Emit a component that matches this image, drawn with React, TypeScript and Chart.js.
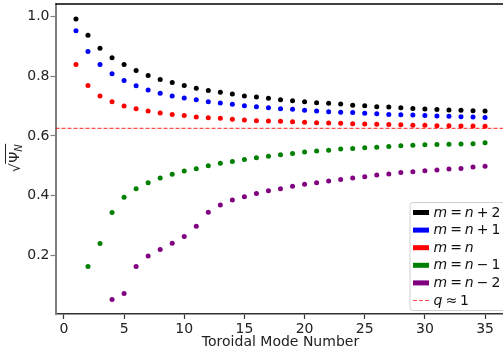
import React, { useEffect, useRef } from "react";
import { Chart, registerables } from "chart.js";

Chart.register(...registerables);

const modes = [1, 2, 3, 4, 5, 6, 7, 8, 9, 10, 11, 12, 13, 14, 15, 16, 17, 18, 19, 20, 21, 22, 23, 24, 25, 26, 27, 28, 29, 30, 31, 32, 33, 34, 35];

const mPlus2 = [0.992, 0.937, 0.894, 0.862, 0.839, 0.819, 0.802, 0.789, 0.779, 0.769, 0.760, 0.752, 0.746, 0.740, 0.734, 0.730, 0.726, 0.721, 0.718, 0.714, 0.711, 0.709, 0.707, 0.703, 0.701, 0.698, 0.697, 0.694, 0.692, 0.690, 0.688, 0.687, 0.686, 0.684, 0.683];
const mPlus1 = [0.952, 0.883, 0.839, 0.808, 0.786, 0.768, 0.754, 0.743, 0.734, 0.727, 0.721, 0.714, 0.710, 0.706, 0.701, 0.698, 0.694, 0.691, 0.689, 0.686, 0.683, 0.681, 0.679, 0.678, 0.676, 0.674, 0.672, 0.671, 0.670, 0.668, 0.667, 0.666, 0.664, 0.663, 0.662];
const mEq = [0.839, 0.769, 0.734, 0.714, 0.700, 0.691, 0.683, 0.677, 0.672, 0.668, 0.663, 0.661, 0.659, 0.656, 0.653, 0.651, 0.650, 0.649, 0.647, 0.646, 0.644, 0.643, 0.642, 0.641, 0.640, 0.639, 0.638, 0.637, 0.636, 0.636, 0.634, 0.634, 0.633, 0.633, 0.632];
// starts at mode 2
const mMinus1 = [0.162, 0.239, 0.343, 0.394, 0.423, 0.443, 0.459, 0.471, 0.482, 0.490, 0.500, 0.508, 0.514, 0.521, 0.527, 0.532, 0.537, 0.541, 0.546, 0.549, 0.552, 0.556, 0.558, 0.560, 0.562, 0.564, 0.567, 0.569, 0.570, 0.571, 0.572, 0.573, 0.574, 0.577];
// starts at mode 4
const mMinus2 = [0.052, 0.072, 0.162, 0.197, 0.219, 0.240, 0.263, 0.297, 0.344, 0.368, 0.385, 0.396, 0.407, 0.416, 0.423, 0.431, 0.438, 0.443, 0.449, 0.454, 0.459, 0.463, 0.469, 0.472, 0.477, 0.480, 0.483, 0.486, 0.489, 0.491, 0.496, 0.498];

const qLevel = 0.625;
const xTicks = [0, 5, 10, 15, 20, 25, 30, 35];
const yTicks = [0.2, 0.4, 0.6, 0.8, 1.0];
const xMin = -0.7;
const xMax = 36.7;
const yMin = 0.003;
const yMax = 1.042;

const seriesLabels = ["m = n + 2", "m = n + 1", "m = n", "m = n \u2212 1", "m = n \u2212 2"];
const seriesColors = ["#000000", "#0000ff", "#ff0000", "#008000", "#800080"];
const qLabel = "q \u2248 1";
const qColor = "rgba(255,0,0,0.7)";
const FONT = "'DejaVu Sans'";

function pts(xs: number[], ys: number[]) {
  return ys.map((y, i) => ({ x: xs[i], y }));
}

function drawMath(ctx: CanvasRenderingContext2D, text: string, x: number, y: number, size: number) {
  let cx = x;
  for (const ch of text) {
    if (ch === " ") {
      cx += 3;
      continue;
    }
    const italic = /[a-zA-Z]/.test(ch);
    ctx.font = `${italic ? "italic " : ""}${size}px ${FONT}`;
    ctx.fillText(ch, cx, y);
    cx += ctx.measureText(ch).width;
  }
}

const decorPlugin = {
  id: "decor",
  afterDraw(chart: any) {
    const ctx: CanvasRenderingContext2D = chart.ctx;
    const a = chart.chartArea;
    ctx.save();
    // top spine
    ctx.strokeStyle = "#000";
    ctx.lineWidth = 1.5;
    ctx.beginPath();
    ctx.moveTo(a.left, a.top);
    ctx.lineTo(a.right + 2, a.top);
    ctx.stroke();

    // x title
    ctx.fillStyle = "#222";
    ctx.font = `14px ${FONT}`;
    ctx.textAlign = "center";
    ctx.textBaseline = "alphabetic";
    ctx.fillText("Toroidal Mode Number", (a.left + a.right) / 2, 346);

    // y title: sqrt(Psi_N)
    ctx.save();
    ctx.translate(14, 158);
    ctx.rotate(-Math.PI / 2);
    ctx.textAlign = "left";
    ctx.textBaseline = "alphabetic";
    ctx.font = `14px ${FONT}`;
    const wSqrt = ctx.measureText("\u221A").width;
    const wPsi = ctx.measureText("\u03A8").width;
    ctx.font = `italic 10px ${FONT}`;
    const wN = ctx.measureText("N").width;
    const total = wSqrt + wPsi + wN + 1;
    let lx = -total / 2;
    const base = 5;
    ctx.font = `14px ${FONT}`;
    ctx.fillText("\u221A", lx, base + 1);
    lx += wSqrt;
    const startOver = lx - 0.5;
    ctx.fillText("\u03A8", lx + 0.5, base);
    lx += wPsi + 0.5;
    ctx.font = `italic 10px ${FONT}`;
    ctx.fillText("N", lx, base + 3);
    lx += wN + 0.5;
    ctx.strokeStyle = "#222";
    ctx.lineWidth = 1;
    ctx.beginPath();
    ctx.moveTo(startOver, -8.5);
    ctx.lineTo(lx, -8.5);
    ctx.stroke();
    ctx.restore();

    // legend
    const bx = 410, by = 202.5, bw = 110, bh = 108;
    ctx.fillStyle = "rgba(255,255,255,0.8)";
    ctx.strokeStyle = "#d0d0d0";
    ctx.lineWidth = 1;
    ctx.beginPath();
    (ctx as any).roundRect(bx, by, bw, bh, 3);
    ctx.fill();
    ctx.stroke();
    ctx.textAlign = "left";
    ctx.textBaseline = "middle";
    const rows = [...seriesLabels, qLabel];
    rows.forEach((lab, i) => {
      const cy = 212.5 + i * 17.6;
      if (i < seriesLabels.length) {
        ctx.fillStyle = seriesColors[i];
        ctx.fillRect(413, cy - 2.5, 16, 5);
      } else {
        ctx.strokeStyle = qColor;
        ctx.lineWidth = 1.2;
        ctx.setLineDash([4, 2]);
        ctx.beginPath();
        ctx.moveTo(413, cy);
        ctx.lineTo(429, cy);
        ctx.stroke();
        ctx.setLineDash([]);
      }
      ctx.fillStyle = "#111";
      drawMath(ctx, lab, 433.5, cy + 0.5, 14);
    });
    ctx.restore();
  },
};

export default function App() {
  const ref = useRef<HTMLCanvasElement | null>(null);
  useEffect(() => {
    if (!ref.current) return;
    Chart.defaults.font.family = FONT;
    Chart.defaults.font.size = 14;
    Chart.defaults.color = "#222";
    const scatterSets = [
      pts(modes, mPlus2),
      pts(modes, mPlus1),
      pts(modes, mEq),
      pts(modes.slice(1), mMinus1),
      pts(modes.slice(3), mMinus2),
    ].map((data, i) => ({
      type: "scatter" as const,
      label: seriesLabels[i],
      data,
      backgroundColor: seriesColors[i],
      borderWidth: 0,
      pointRadius: 2.5,
      pointHoverRadius: 2.5,
    }));
    const chart = new Chart(ref.current, {
      type: "scatter",
      data: {
        datasets: [
          {
            type: "line" as const,
            label: qLabel,
            data: [
              { x: xMin, y: qLevel },
              { x: xMax, y: qLevel },
            ],
            borderColor: qColor,
            borderWidth: 1.2,
            borderDash: [4, 2],
            pointRadius: 0,
            showLine: true,
          } as any,
          ...scatterSets,
        ],
      },
      options: {
        animation: false,
        responsive: false,
        layout: { padding: { top: 4, right: 0.8, left: 0, bottom: 0 } },
        plugins: { legend: { display: false }, tooltip: { enabled: false } },
        scales: {
          x: {
            type: "linear",
            min: xMin,
            max: xMax,
            afterFit: (s: any) => {
              s.height = 42;
              s.paddingLeft = 0;
              s.paddingRight = 0;
            },
            afterBuildTicks: (s: any) => {
              s.ticks = xTicks.map((v) => ({ value: v }));
            },
            ticks: { padding: 2, color: "#222", font: { size: 14 } },
            grid: {
              display: true,
              drawOnChartArea: false,
              drawTicks: true,
              tickLength: 5,
              tickWidth: 1.2,
              tickColor: "#333",
            },
            border: { display: true, color: "#333", width: 1.5 },
          },
          y: {
            type: "linear",
            min: yMin,
            max: yMax,
            afterFit: (s: any) => {
              s.width = 55.5;
              s.paddingTop = 0;
              s.paddingBottom = 0;
            },
            afterBuildTicks: (s: any) => {
              s.ticks = yTicks.map((v) => ({ value: v }));
            },
            ticks: {
              padding: 1,
              color: "#222",
              font: { size: 14 },
              callback: (v: any) => Number(v).toFixed(1),
            },
            grid: {
              display: true,
              drawOnChartArea: false,
              drawTicks: true,
              tickLength: 5,
              tickWidth: 1.2,
              tickColor: "#808080",
            },
            border: { display: true, color: "#808080", width: 2 },
          },
        },
      },
      plugins: [decorPlugin],
    });
    return () => chart.destroy();
  }, []);
  return (
    <div style={{ position: "fixed", left: 0, top: 0, width: 503, height: 356, overflow: "hidden", background: "#fff" }}>
      <canvas ref={ref} width={508} height={356} style={{ display: "block", width: 508, height: 356 }} />
    </div>
  );
}
